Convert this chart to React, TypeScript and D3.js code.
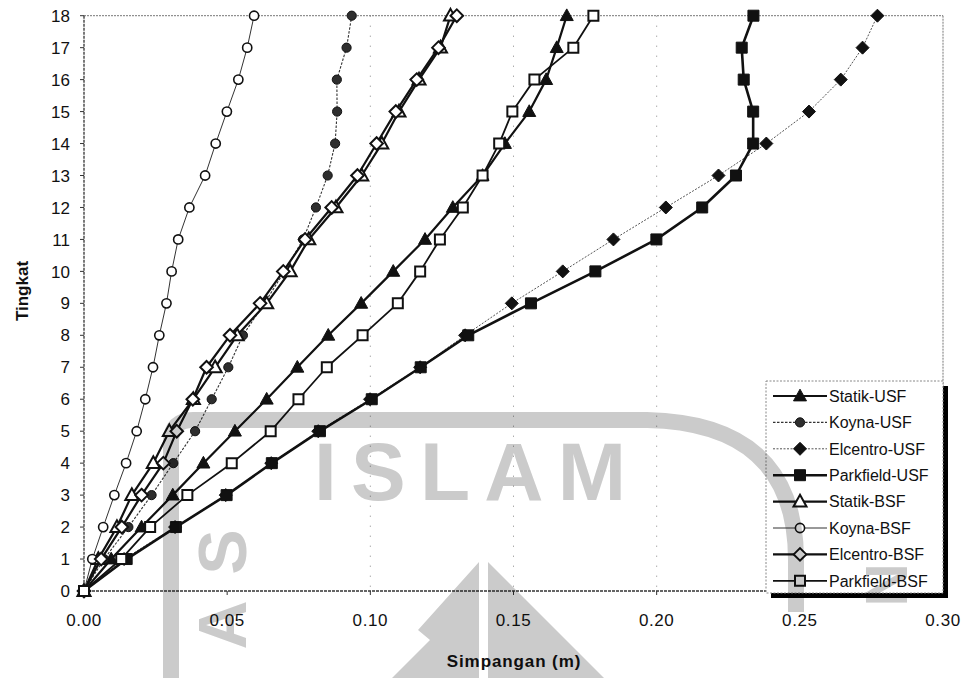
import React from "react";
import * as d3 from "d3";

const levels = [0, 1, 2, 3, 4, 5, 6, 7, 8, 9, 10, 11, 12, 13, 14, 15, 16, 17, 18];
const xTicks = [0, 0.05, 0.1, 0.15, 0.2, 0.25, 0.3];
const gridTicks = [0.1, 0.15, 0.2];

const statikUSF = [0, 0.0095, 0.0201, 0.031, 0.0417, 0.0527, 0.0638, 0.0745, 0.0853, 0.0968, 0.108, 0.1191, 0.1288, 0.1392, 0.147, 0.1555, 0.1614, 0.1651, 0.1686];
const koynaUSF = [0, 0.007, 0.0155, 0.0236, 0.0312, 0.0388, 0.0446, 0.0504, 0.0555, 0.063, 0.07, 0.0765, 0.081, 0.0851, 0.0877, 0.0884, 0.0883, 0.0917, 0.0935];
const elcentroUSF = [0, 0.014, 0.0318, 0.0495, 0.0654, 0.0818, 0.0999, 0.1174, 0.1331, 0.1494, 0.1672, 0.1849, 0.2032, 0.2216, 0.2383, 0.2532, 0.2643, 0.2719, 0.2771];
const parkfieldUSF = [0, 0.0149, 0.0321, 0.0498, 0.0656, 0.0824, 0.1005, 0.1176, 0.1342, 0.1561, 0.1786, 0.1999, 0.2159, 0.2277, 0.2337, 0.2337, 0.2304, 0.2297, 0.2338];
const statikBSF = [0, 0.005, 0.0115, 0.0167, 0.0242, 0.0298, 0.0382, 0.0458, 0.0535, 0.0638, 0.072, 0.0785, 0.088, 0.097, 0.104, 0.11, 0.117, 0.1245, 0.128];
const koynaBSF = [0, 0.0029, 0.0067, 0.0106, 0.0147, 0.0184, 0.0214, 0.0241, 0.0263, 0.0288, 0.0306, 0.0329, 0.0368, 0.0423, 0.046, 0.0499, 0.0539, 0.057, 0.0594];
const elcentroBSF = [0, 0.006, 0.0132, 0.0201, 0.0277, 0.0324, 0.038, 0.0428, 0.051, 0.0615, 0.0696, 0.0772, 0.0865, 0.0955, 0.1022, 0.1089, 0.1162, 0.1238, 0.1302];
const parkfieldBSF = [0, 0.013, 0.0231, 0.0361, 0.0516, 0.0652, 0.0749, 0.0848, 0.0973, 0.1096, 0.1174, 0.1243, 0.1323, 0.1392, 0.145, 0.1496, 0.1573, 0.1709, 0.1779];

const seriesNames = ["Statik-USF", "Koyna-USF", "Elcentro-USF", "Parkfield-USF", "Statik-BSF", "Koyna-BSF", "Elcentro-BSF", "Parkfield-BSF"];
const seriesValues = [statikUSF, koynaUSF, elcentroUSF, parkfieldUSF, statikBSF, koynaBSF, elcentroBSF, parkfieldBSF];

type Style = { shape: string; filled: boolean; fill: string; lw: number; dash?: string; lc: string; size: number; mw: number };
const styles: Style[] = [
  { shape: "tri", filled: true, fill: "#111", lw: 2.2, lc: "#111", size: 6.5, mw: 1 },
  { shape: "circ", filled: true, fill: "#2e2e2e", lw: 1.1, dash: "2.5,1.5", lc: "#333", size: 4.6, mw: 1 },
  { shape: "dia", filled: true, fill: "#111", lw: 1, dash: "2,1.5", lc: "#555", size: 6.5, mw: 1 },
  { shape: "sq", filled: true, fill: "#111", lw: 2.6, lc: "#111", size: 5.5, mw: 1 },
  { shape: "tri", filled: false, fill: "#fff", lw: 2.2, lc: "#111", size: 6.5, mw: 2 },
  { shape: "circ", filled: false, fill: "#fff", lw: 1, lc: "#333", size: 4.6, mw: 1.6 },
  { shape: "dia", filled: false, fill: "#fff", lw: 2.2, lc: "#111", size: 6.3, mw: 2 },
  { shape: "sq", filled: false, fill: "#fff", lw: 1.8, lc: "#111", size: 5, mw: 2 },
];

const FONT = "Arial, 'Liberation Sans', sans-serif";
const W = 971;
const H = 678;

function markerPath(shape: string, s: number): string {
  if (shape === "tri") return `M0,${-s * 1.05}L${s},${s * 0.75}L${-s},${s * 0.75}Z`;
  if (shape === "sq") return `M${-s},${-s}H${s}V${s}H${-s}Z`;
  if (shape === "dia") return `M0,${-s}L${s},0L0,${s}L${-s},0Z`;
  const p = d3.path();
  p.arc(0, 0, s, 0, Math.PI * 2);
  p.closePath();
  return p.toString();
}

function Marker({ st, x, y }: { st: Style; x: number; y: number }) {
  return (
    <path
      d={markerPath(st.shape, st.size)}
      transform={`translate(${x},${y})`}
      fill={st.fill}
      stroke="#111"
      strokeWidth={st.mw}
      strokeLinejoin="miter"
    />
  );
}

export default function App() {
  const x = d3.scaleLinear().domain([0, 0.3]).range([84, 943]);
  const y = d3.scaleLinear().domain([0, 18]).range([591, 15.7]);
  const line = d3
    .line<number>()
    .x((d) => x(d))
    .y((_, i) => y(levels[i]));

  const legX = 766;
  const legY = 381;
  const legW = 177;
  const legH = 212;
  const rowStep = 26.4;

  return (
    <svg
      width={W}
      height={H}
      style={{ position: "absolute", left: 0, top: 0, background: "#fff" }}
      fontFamily={FONT}
    >
      <rect x={0} y={0} width={W} height={H} fill="#fff" />
      {/* grid */}
      {gridTicks.map((t) => (
        <line key={t} x1={x(t)} x2={x(t)} y1={y(18)} y2={y(0)} stroke="#888" strokeWidth={1} strokeDasharray="1,9" />
      ))}
      {/* frame */}
      <line x1={x(0)} x2={x(0.3)} y1={y(18)} y2={y(18)} stroke="#777" strokeWidth={1} strokeDasharray="2,1" />
      <line x1={x(0.3)} x2={x(0.3)} y1={y(18)} y2={y(0)} stroke="#777" strokeWidth={1} strokeDasharray="2,1" />
      <line x1={x(0)} x2={x(0)} y1={y(18)} y2={y(0)} stroke="#333" strokeWidth={1.3} strokeDasharray="3,1" />
      <line x1={x(0)} x2={x(0.3)} y1={y(0)} y2={y(0)} stroke="#333" strokeWidth={1.3} strokeDasharray="3,1" />
      {levels.map((l) => (
        <line key={"yt" + l} x1={x(0) - 4} x2={x(0)} y1={y(l)} y2={y(l)} stroke="#333" strokeWidth={1} />
      ))}
      {xTicks.map((t) => (
        <line key={"xt" + t} x1={x(t)} x2={x(t)} y1={y(0)} y2={y(0) + 4} stroke="#333" strokeWidth={1} />
      ))}
      {/* tick labels */}
      {levels.map((l) => (
        <text key={"yl" + l} x={70} y={y(l)} dy="0.36em" textAnchor="end" fontSize={17} fill="#111">
          {l}
        </text>
      ))}
      {xTicks.map((t) => (
        <text key={"xl" + t} x={x(t)} y={626} textAnchor="middle" fontSize={17} fill="#111" letterSpacing={0.6}>
          {t.toFixed(2)}
        </text>
      ))}
      {/* axis titles */}
      <text x={514} y={667} textAnchor="middle" fontSize={17} fontWeight="bold" fill="#111" letterSpacing={0.9}>
        Simpangan (m)
      </text>
      <text
        transform={`translate(28,291) rotate(-90)`}
        textAnchor="middle"
        fontSize={17}
        fontWeight="bold"
        fill="#111"
      >
        Tingkat
      </text>
      {/* series lines */}
      {seriesValues.map((vals, si) => (
        <path
          key={"l" + si}
          d={line(vals) || ""}
          fill="none"
          stroke={styles[si].lc}
          strokeWidth={styles[si].lw}
          strokeDasharray={styles[si].dash}
          strokeLinejoin="round"
        />
      ))}
      {/* markers */}
      {seriesValues.map((vals, si) => (
        <g key={"m" + si}>
          {vals.map((v, i) => (
            <Marker key={i} st={styles[si]} x={x(v)} y={y(levels[i])} />
          ))}
        </g>
      ))}
      {/* legend */}
      <rect x={legX + 5} y={legY + 5} width={legW} height={legH} fill="#000" />
      <rect x={legX} y={legY} width={legW} height={legH} fill="#fff" stroke="#888" strokeWidth={1} strokeDasharray="2,1.5" />
      {seriesNames.map((name, i) => {
        const ry = legY + 15 + i * rowStep;
        const st = styles[i];
        return (
          <g key={"lg" + i}>
            <line x1={773} x2={827} y1={ry} y2={ry} stroke={st.lc} strokeWidth={st.lw} strokeDasharray={st.dash} />
            <Marker st={st} x={800} y={ry} />
            <text x={829} y={ry} dy="0.36em" fontSize={16} fill="#111">
              {name}
            </text>
          </g>
        );
      })}
      {/* watermark (scanned logo) */}
      <g style={{ mixBlendMode: "multiply" }} fill="#cbcbcb" stroke="none">
        <path
          d="M171,678 L171,442 Q171,420 193,420 L640,420 Q796,420 796,560 L796,612"
          fill="none"
          stroke="#cbcbcb"
          strokeWidth={16}
        />
        <text x={314} y={500} fontSize={82} fontWeight="bold" textLength={312} lengthAdjust="spacing" fontFamily={FONT}>
          ISLAM
        </text>
        <text transform="translate(246,552) rotate(-90)" textAnchor="middle" fontSize={68} fontWeight="bold" fontFamily={FONT}>
          S
        </text>
        <text transform="translate(246,625) rotate(-90)" textAnchor="middle" fontSize={68} fontWeight="bold" fontFamily={FONT}>
          A
        </text>
        <text transform="translate(866,585) rotate(90)" textAnchor="middle" fontSize={60} fontWeight="bold" fontFamily={FONT}>
          N
        </text>
        <path d="M479,562 L479,678 L392,678 L430,640 L418,630 Z" />
        <path d="M488,562 L604,678 L488,678 Z" />
      </g>
    </svg>
  );
}
